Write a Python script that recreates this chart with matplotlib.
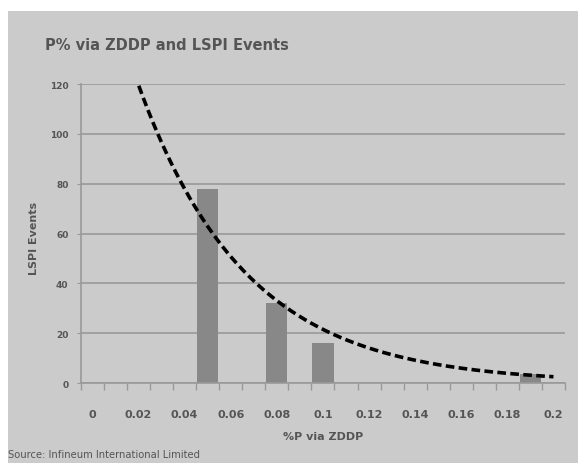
import numpy as np
import matplotlib.pyplot as plt
from matplotlib.patches import Rectangle

# data
p_zddp = [0.05, 0.08, 0.10, 0.19]
lspi_events = [78, 32, 16, 3.5]
x_labels = ['0', '0.02', '0.04', '0.06', '0.08', '0.1', '0.12', '0.14', '0.16', '0.18', '0.2']
y_ticks = [0, 20, 40, 60, 80, 100, 120]

txt = '#555555'
bg = '#cbcbcb'

fig = plt.figure(figsize=(5.78, 4.64), dpi=100)
fig.patches.append(Rectangle((8 / 578, 0), 1, 1 - 12 / 464, transform=fig.transFigure,
                             facecolor=bg, edgecolor='none', zorder=-5))

ax = fig.add_axes([0.140, 0.1724, 0.8375, 0.6444])
ax.set_facecolor(bg)

ax.bar(p_zddp, lspi_events, width=0.0092, color='#888888', zorder=2)

# exponential trendline (least squares on log values, as the spreadsheet does)
k, c = np.polyfit(p_zddp, np.log(lspi_events), 1)
xs = np.linspace(0, 0.2, 200)
ax.plot(xs, np.exp(c + k * xs), color='black', linestyle=(0, (2.4, 1.2)), linewidth=2.6,
        zorder=3)

ax.set_xlim(-0.005, 0.205)
ax.set_ylim(0, 120)
ax.set_yticks(y_ticks)
ax.set_yticklabels([str(v) for v in y_ticks], fontsize=6.5, fontweight='bold', color=txt)
ax.set_xticks(np.arange(0, 0.201, 0.02))
ax.set_xticklabels(x_labels, fontsize=8, fontweight='bold', color=txt)
ax.set_xticks(np.arange(-0.005, 0.2051, 0.01), minor=True)
ax.tick_params(axis='x', which='major', length=0, pad=19)
ax.tick_params(axis='x', which='minor', length=5, color='#999999', width=1)
ax.tick_params(axis='y', length=3, color='#999999', pad=6)
ax.yaxis.grid(True, color='#999999', linewidth=1.2, zorder=1)
ax.set_axisbelow(True)
for s in ['top', 'right']:
    ax.spines[s].set_visible(False)
for s in ['left', 'bottom']:
    ax.spines[s].set_color('#999999')
    ax.spines[s].set_linewidth(1.2)

fig.text(45 / 578, 1 - 45 / 464, 'P% via ZDDP and LSPI Events', fontsize=10.5, fontweight='bold',
         color=txt, va='center', ha='left')
fig.text(34 / 578, 1 - 238 / 464, 'LSPI Events', fontsize=8, fontweight='bold', color=txt,
         rotation=90, va='center', ha='center')
fig.text(323 / 578, 1 - 437 / 464, '%P via ZDDP', fontsize=8, fontweight='bold', color=txt,
         va='center', ha='center')
fig.text(8 / 578, 1 - 455 / 464, 'Source: Infineum International Limited', fontsize=8, color=txt,
         va='center', ha='left', fontstretch='condensed')

fig.savefig('out.png', dpi=100)
